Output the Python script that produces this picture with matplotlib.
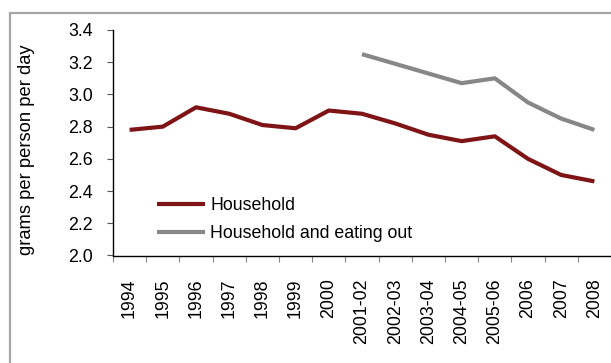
import matplotlib
matplotlib.use("Agg")
import matplotlib.pyplot as plt
from matplotlib.patches import Rectangle

plt.rcParams["font.family"] = ["Liberation Sans", "DejaVu Sans"]

periods = ["1994", "1995", "1996", "1997", "1998", "1999", "2000", "2001-02",
           "2002-03", "2003-04", "2004-05", "2005-06", "2006", "2007", "2008"]
household = [2.78, 2.80, 2.92, 2.88, 2.81, 2.79, 2.90, 2.88,
             2.82, 2.75, 2.71, 2.74, 2.60, 2.50, 2.46]
# eating-out series only starts with 2001-02
eating_out_periods = periods[7:]
household_eating_out = [3.25, 3.19, 3.13, 3.07, 3.10, 2.95, 2.85, 2.78]

RED = "#7f1416"
GREY = "#878787"
FS = 12.8

fig = plt.figure(figsize=(6.11, 3.63), dpi=100)
ax = fig.add_axes([113 / 611, 1 - 255.5 / 363, 1 - 113 / 611, 225.5 / 363])

x = list(range(len(periods)))
x_out = [periods.index(p) for p in eating_out_periods]
ax.plot(x, household, color=RED, lw=3, solid_capstyle="butt", label="Household")
ax.plot(x_out, household_eating_out, color=GREY, lw=3, solid_capstyle="butt",
        label="Household and eating out")

ax.set_xlim(-0.5, len(periods) - 0.5)
ax.set_ylim(2.0, 3.4)
ax.set_yticks([2.0, 2.2, 2.4, 2.6, 2.8, 3.0, 3.2, 3.4])
ax.set_yticklabels([f"{v:.1f}" for v in ax.get_yticks()])
ax.set_xticks(x)
ax.set_xticklabels(periods, rotation=90)
ax.set_xticks([i - 0.5 for i in range(len(periods) + 1)], minor=True)

ax.tick_params(axis="y", direction="out", length=4, width=0.8, pad=10.5,
               labelsize=FS, color="#555555")
ax.tick_params(axis="x", which="major", length=0, pad=16.5, labelsize=FS)
ax.tick_params(axis="x", which="minor", direction="out", length=4, width=0.8,
               color="#888888")

for side in ("top", "right"):
    ax.spines[side].set_visible(False)
for side in ("left", "bottom"):
    ax.spines[side].set_linewidth(1)
    ax.spines[side].set_color("black")

ax.set_ylabel("grams per person per day", fontsize=13.2)
ax.yaxis.set_label_coords(35 / 611, 1 - 150 / 363, transform=fig.transFigure)

ax.legend(loc="upper left", bbox_to_anchor=(157 / 611, 1 - 197 / 363),
          bbox_transform=fig.transFigure, frameon=False, fontsize=FS,
          handlelength=2.7, handletextpad=0.3, labelspacing=0.62,
          borderpad=0, borderaxespad=0)

# outer chart frame (only top and left edges fall inside the image)
fig.patches.append(Rectangle((10 / 611, -0.1), 1.2, 1 - 13 / 363 + 0.1,
                             transform=fig.transFigure, fill=False,
                             edgecolor="#a6a6a6", lw=1.6, zorder=0))

fig.savefig("out.png", dpi=100)
